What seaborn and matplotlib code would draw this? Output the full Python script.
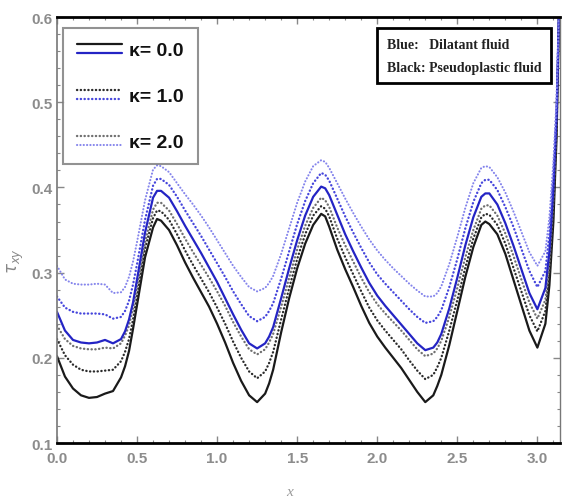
import numpy as np
import pandas as pd
import matplotlib
matplotlib.use("Agg")
import matplotlib.pyplot as plt
import seaborn as sns
from matplotlib.lines import Line2D
from matplotlib.legend_handler import HandlerBase
from matplotlib.ticker import MultipleLocator

x = [0.00, 0.05, 0.10, 0.15, 0.20, 0.25, 0.30, 0.35, 0.40, 0.425, 0.45, 0.475,
     0.50, 0.55, 0.60, 0.625, 0.65, 0.70, 0.75, 0.80, 0.85, 0.90, 0.95,
     1.00, 1.05, 1.10, 1.15, 1.20, 1.25, 1.30, 1.325, 1.35, 1.40, 1.45,
     1.50, 1.55, 1.60, 1.65, 1.675, 1.70, 1.75, 1.80, 1.85, 1.90, 1.95,
     2.00, 2.05, 2.10, 2.15, 2.20, 2.25, 2.30, 2.35, 2.375, 2.40, 2.45,
     2.50, 2.55, 2.60, 2.65, 2.675, 2.70, 2.75, 2.80, 2.85, 2.90, 2.95,
     3.00, 3.05, 3.075, 3.10, 3.12, 3.14]

# black = pseudoplastic fluid
black_k0 = [0.202, 0.178, 0.164, 0.156, 0.153, 0.154, 0.158, 0.161, 0.177, 0.190, 0.208, 0.234,
            0.262, 0.318, 0.353, 0.363, 0.361, 0.350, 0.332, 0.312, 0.294, 0.277, 0.260,
            0.240, 0.218, 0.194, 0.173, 0.156, 0.148, 0.158, 0.170, 0.186, 0.230, 0.270,
            0.305, 0.334, 0.356, 0.369, 0.366, 0.354, 0.327, 0.304, 0.283, 0.261, 0.241,
            0.225, 0.212, 0.200, 0.188, 0.174, 0.160, 0.148, 0.156, 0.167, 0.180, 0.215,
            0.255, 0.295, 0.330, 0.356, 0.360, 0.357, 0.345, 0.322, 0.292, 0.262, 0.232,
            0.212, 0.240, 0.285, 0.360, 0.460, 0.650]
black_k1 = [0.222, 0.203, 0.192, 0.186, 0.184, 0.184, 0.185, 0.186, 0.196, 0.207, 0.222, 0.245,
            0.272, 0.328, 0.364, 0.373, 0.372, 0.362, 0.345, 0.326, 0.309, 0.293, 0.277,
            0.259, 0.240, 0.219, 0.200, 0.184, 0.176, 0.184, 0.194, 0.207, 0.245, 0.282,
            0.316, 0.345, 0.367, 0.378, 0.375, 0.366, 0.340, 0.318, 0.298, 0.278, 0.259,
            0.244, 0.232, 0.221, 0.210, 0.197, 0.185, 0.175, 0.180, 0.189, 0.200, 0.232,
            0.268, 0.306, 0.340, 0.365, 0.369, 0.368, 0.356, 0.334, 0.306, 0.278, 0.250,
            0.231, 0.255, 0.298, 0.375, 0.470, 0.650]
black_k2 = [0.238, 0.222, 0.214, 0.211, 0.210, 0.210, 0.212, 0.211, 0.217, 0.226, 0.238, 0.258,
            0.283, 0.336, 0.374, 0.382, 0.382, 0.373, 0.357, 0.340, 0.324, 0.309, 0.294,
            0.278, 0.261, 0.242, 0.225, 0.210, 0.204, 0.210, 0.218, 0.228, 0.260, 0.294,
            0.327, 0.355, 0.376, 0.388, 0.385, 0.377, 0.353, 0.332, 0.313, 0.294, 0.277,
            0.263, 0.252, 0.242, 0.232, 0.221, 0.210, 0.202, 0.205, 0.211, 0.220, 0.248,
            0.282, 0.318, 0.350, 0.375, 0.379, 0.379, 0.367, 0.346, 0.320, 0.292, 0.265,
            0.246, 0.268, 0.310, 0.385, 0.475, 0.650]

# blue = dilatant fluid
blue_k0 = [0.254, 0.232, 0.221, 0.218, 0.217, 0.218, 0.221, 0.217, 0.222, 0.231, 0.245, 0.265,
           0.292, 0.347, 0.388, 0.396, 0.396, 0.388, 0.372, 0.355, 0.339, 0.323, 0.306,
           0.289, 0.270, 0.251, 0.233, 0.217, 0.211, 0.217, 0.225, 0.236, 0.270, 0.305,
           0.338, 0.367, 0.389, 0.401, 0.399, 0.391, 0.368, 0.345, 0.325, 0.306, 0.288,
           0.273, 0.261, 0.250, 0.239, 0.228, 0.217, 0.209, 0.212, 0.218, 0.228, 0.258,
           0.294, 0.332, 0.365, 0.389, 0.393, 0.393, 0.380, 0.358, 0.332, 0.304, 0.276,
           0.257, 0.282, 0.325, 0.400, 0.485, 0.650]
blue_k1 = [0.272, 0.259, 0.254, 0.252, 0.252, 0.252, 0.251, 0.246, 0.248, 0.255, 0.267, 0.286,
           0.310, 0.362, 0.402, 0.410, 0.410, 0.403, 0.389, 0.373, 0.358, 0.343, 0.327,
           0.311, 0.295, 0.278, 0.263, 0.249, 0.243, 0.248, 0.255, 0.264, 0.293, 0.325,
           0.357, 0.384, 0.405, 0.417, 0.415, 0.408, 0.387, 0.366, 0.347, 0.329, 0.312,
           0.298, 0.287, 0.277, 0.267, 0.257, 0.248, 0.241, 0.243, 0.248, 0.256, 0.283,
           0.316, 0.352, 0.383, 0.405, 0.409, 0.409, 0.397, 0.377, 0.354, 0.328, 0.302,
           0.283, 0.302, 0.345, 0.415, 0.495, 0.650]
blue_k2 = [0.308, 0.292, 0.287, 0.286, 0.286, 0.287, 0.286, 0.276, 0.277, 0.283, 0.295, 0.313,
           0.336, 0.385, 0.421, 0.426, 0.425, 0.418, 0.405, 0.392, 0.380, 0.367, 0.353,
           0.338, 0.323, 0.308, 0.295, 0.283, 0.278, 0.282, 0.288, 0.296, 0.322, 0.352,
           0.382, 0.407, 0.425, 0.432, 0.430, 0.423, 0.405, 0.387, 0.370, 0.354, 0.339,
           0.326, 0.315, 0.305, 0.296, 0.287, 0.279, 0.272, 0.272, 0.276, 0.284, 0.310,
           0.342, 0.376, 0.405, 0.423, 0.425, 0.424, 0.412, 0.394, 0.372, 0.348, 0.324,
           0.308, 0.325, 0.365, 0.430, 0.505, 0.650]

kappa_labels = ["κ= 0.0", "κ= 1.0", "κ= 2.0"]

sns.set_style("ticks")
plt.rcParams["font.family"] = ["Liberation Sans", "DejaVu Sans"]

fig = plt.figure(figsize=(5.64, 5.02), dpi=100)
ax = fig.add_axes([0.101, 0.1155, 0.892, 0.8485])

dots = (0, (0.1, 1.5))
styles = [
    (black_k0, "#1a1a1a", "-", 1.6),
    (black_k1, "#2b2b2b", dots, 1.7),
    (black_k2, "#707070", dots, 1.7),
    (blue_k0, "#2424c4", "-", 1.6),
    (blue_k1, "#4646dc", dots, 1.7),
    (blue_k2, "#8585ec", dots, 1.5),
]
for yv, col, ls, lw in styles:
    sns.lineplot(x=x, y=yv, ax=ax, color=col, linestyle=ls, linewidth=lw,
                 dash_capstyle="round")

ax.set_xlim(0, np.pi)
ax.set_ylim(0.1, 0.6)
ax.xaxis.set_major_locator(MultipleLocator(0.5))
ax.xaxis.set_minor_locator(MultipleLocator(0.1))
ax.yaxis.set_major_locator(MultipleLocator(0.1))
ax.yaxis.set_minor_locator(MultipleLocator(0.02))
ax.xaxis.set_major_formatter(lambda v, p: f"{v:.1f}")
ax.yaxis.set_major_formatter(lambda v, p: f"{v:.1f}")
ax.tick_params(which="both", direction="in", colors="#888888", labelcolor="#8c8c8c",
               top=True, right=True)
ax.tick_params(which="major", length=5, width=1, labelsize=11)
ax.tick_params(axis="x", which="major", pad=6)
ax.tick_params(axis="y", which="major", pad=3)
ax.tick_params(which="minor", length=2.5, width=0.8)
for lab in ax.get_xticklabels() + ax.get_yticklabels():
    lab.set_fontweight("bold")

for side in ["top", "bottom"]:
    ax.spines[side].set_color("black")
    ax.spines[side].set_linewidth(2)
ax.spines["left"].set_color("#777777")
ax.spines["left"].set_linewidth(1.2)
ax.spines["right"].set_color("#777777")
ax.spines["right"].set_linewidth(1)

ax.set_xlabel("x", family="Liberation Serif", style="italic", color="#999999",
              fontsize=11)
ax.xaxis.set_label_coords(0.463, -0.098)
ax.set_ylabel(r"$\tau_{xy}$", color="#888888", fontsize=12)
ax.yaxis.set_label_coords(-0.062, 0.43)


# legend handle: black line drawn above the blue one, like the original
class PairHandler(HandlerBase):
    def __init__(self, pair):
        super().__init__()
        self.pair = pair

    def create_artists(self, legend, orig_handle, xdescent, ydescent,
                       width, height, fontsize, trans):
        out = []
        for st, yy in zip(self.pair, [0.8 * height, 0.15 * height]):
            ln = Line2D([-xdescent, width - xdescent], [yy - ydescent] * 2,
                        color=st[1], linestyle=st[2], linewidth=st[3],
                        dash_capstyle="round")
            ln.set_transform(trans)
            out.append(ln)
        return out


pairs = [(styles[0], styles[3]), (styles[1], styles[4]), (styles[2], styles[5])]
dummy = [Line2D([], []) for _ in pairs]
leg = ax.legend(dummy, kappa_labels,
                handler_map={h: PairHandler(p) for h, p in zip(dummy, pairs)},
                loc="upper left", bbox_to_anchor=(0.005, 0.984), frameon=True,
                fancybox=False, edgecolor="#777777", handlelength=2.3,
                labelspacing=1.45, borderpad=0.7, handletextpad=0.4,
                borderaxespad=0.2, prop={"weight": "bold", "size": 14})
leg.get_frame().set_linewidth(1.5)
for t in leg.get_texts():
    t.set_color("#111111")

ax.text(0.963, 0.952, "Blue:   Dilatant fluid\nBlack: Pseudoplastic fluid",
        transform=ax.transAxes, ha="right", va="top", multialignment="left",
        family="Liberation Serif", fontweight="bold", fontsize=10,
        color="#222222", linespacing=2.0,
        bbox=dict(boxstyle="square,pad=0.7", facecolor="white", edgecolor="black",
                  linewidth=2))

fig.savefig("out.png", dpi=100)
